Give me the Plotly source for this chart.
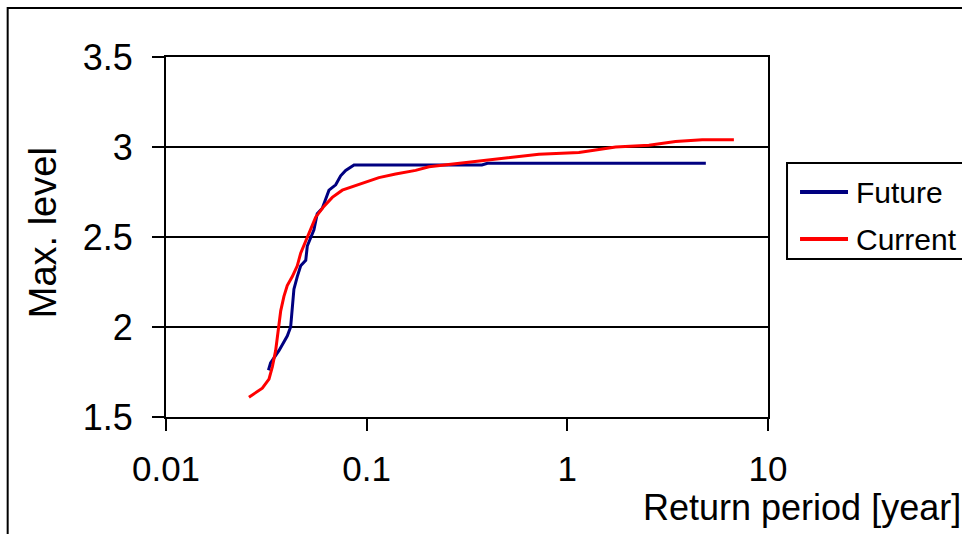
import plotly.graph_objects as go

# Future scenario (return period [year], max level)
future_period = [0.0324, 0.0332, 0.0366, 0.0402, 0.0418, 0.0426, 0.0434, 0.0451, 0.0469,
                 0.0497, 0.0506, 0.0546, 0.0567, 0.0601, 0.0637, 0.0649, 0.0701, 0.0742,
                 0.0786, 0.0865, 0.375, 0.40, 4.9]
future_level = [1.76, 1.80, 1.87, 1.95, 2.00, 2.09, 2.21, 2.28, 2.34,
                2.37, 2.45, 2.54, 2.63, 2.66, 2.73, 2.76, 2.79, 2.84,
                2.87, 2.90, 2.90, 2.91, 2.91]

# Current scenario
current_period = [0.0259, 0.0302, 0.0326, 0.0339, 0.0352, 0.0363, 0.0373, 0.0387, 0.0402,
                  0.0426, 0.0451, 0.0469, 0.0497, 0.0526, 0.0557, 0.0612, 0.0674, 0.0756,
                  0.0951, 0.1151, 0.1394, 0.1754, 0.2044, 0.2884, 0.4225, 0.722, 1.142,
                  1.741, 2.55, 3.46, 4.70, 6.76]
current_level = [1.61, 1.66, 1.71, 1.78, 1.87, 1.98, 2.09, 2.17, 2.23,
                 2.28, 2.34, 2.41, 2.48, 2.55, 2.61, 2.67, 2.72, 2.76,
                 2.80, 2.83, 2.85, 2.87, 2.89, 2.91, 2.93, 2.96, 2.97,
                 3.00, 3.01, 3.03, 3.04, 3.04]

series_names = ["Future", "Current"]
series_colors = ["#000080", "#FF0000"]

x_ticks = [0.01, 0.1, 1, 10]
x_tick_text = ["0.01", "0.1", "1", "10"]
y_ticks = [1.5, 2, 2.5, 3, 3.5]
y_tick_text = ["1.5", "2", "2.5", "3", "3.5"]

FONT = "Liberation Sans, Arial, sans-serif"

fig = go.Figure()
fig.add_trace(go.Scatter(x=future_period, y=future_level, mode="lines", name=series_names[0],
                         line=dict(color=series_colors[0], width=3), showlegend=False))
fig.add_trace(go.Scatter(x=current_period, y=current_level, mode="lines", name=series_names[1],
                         line=dict(color=series_colors[1], width=3), showlegend=False))

# Manual legend (box, line samples, labels) in paper coordinates
legend_shapes = [
    dict(type="rect", xref="paper", yref="paper", x0=1.0316, y0=0.4389, x1=1.45, y1=0.7056,
         line=dict(color="black", width=2), fillcolor="white", layer="above"),
]
legend_rows_y = [0.625, 0.4944]
legend_annos = []
for name, color, ly in zip(series_names, series_colors, legend_rows_y):
    legend_shapes.append(dict(type="line", xref="paper", yref="paper",
                              x0=1.0532, x1=1.1329, y0=ly, y1=ly,
                              line=dict(color=color, width=4), layer="above"))
    legend_annos.append(dict(text=name, xref="paper", yref="paper", x=1.1435, y=ly,
                             xanchor="left", yanchor="middle", showarrow=False,
                             font=dict(size=30, family=FONT, color="black")))

fig.update_layout(
    width=962, height=534,
    margin=dict(l=166, r=194, t=57, b=117),
    paper_bgcolor="white", plot_bgcolor="white",
    font=dict(family=FONT, color="black", size=36),
    showlegend=False,
    xaxis=dict(type="log", range=[-2, 1], tickvals=x_ticks, ticktext=x_tick_text,
               showgrid=False, showline=True, linecolor="black", linewidth=2,
               mirror=True, ticks="outside", ticklen=12, tickwidth=2, tickcolor="black",
               tickfont=dict(size=35), ticklabelstandoff=8, zeroline=False),
    yaxis=dict(range=[1.5, 3.5], tickvals=y_ticks, ticktext=y_tick_text,
               showgrid=True, gridcolor="black", gridwidth=2,
               showline=True, linecolor="black", linewidth=2, mirror=True,
               ticks="outside", ticklen=12, tickwidth=2, tickcolor="black",
               tickfont=dict(size=36), ticklabelstandoff=12, zeroline=False),
    annotations=[
        dict(text="Max. level", xref="paper", yref="paper", x=-0.204, y=0.511,
             xanchor="center", yanchor="middle", textangle=-90, showarrow=False,
             font=dict(size=38, family=FONT)),
        dict(text="Return period [year]", xref="paper", yref="paper", x=1.324, y=-0.252,
             xanchor="right", yanchor="middle", showarrow=False,
             font=dict(size=36, family=FONT)),
    ] + legend_annos,
    shapes=[
        dict(type="rect", xref="paper", yref="paper", x0=-0.263, y0=-0.5, x1=1.6, y1=1.136,
             line=dict(color="black", width=2), fillcolor="rgba(0,0,0,0)", layer="below"),
    ] + legend_shapes,
)

fig.write_html("out.html")
